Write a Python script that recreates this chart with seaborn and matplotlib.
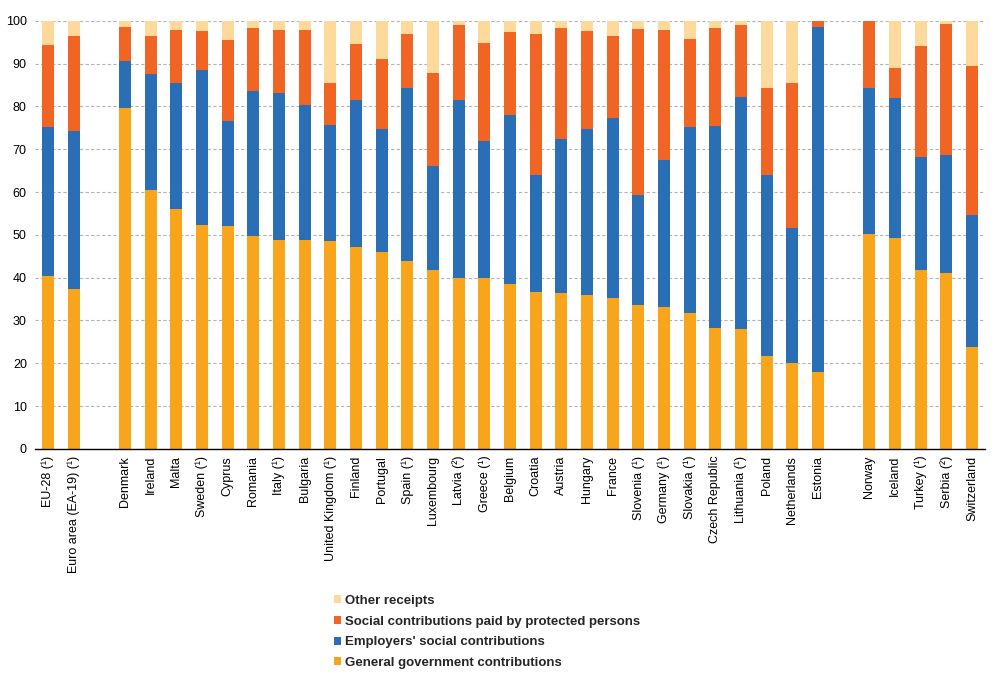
import numpy as np
import pandas as pd
import matplotlib
matplotlib.use("Agg")
import matplotlib.pyplot as plt
import seaborn as sns
from matplotlib.patches import Patch

countries = ["EU-28 (¹)", "Euro area (EA-19) (¹)",
             "Denmark", "Ireland", "Malta", "Sweden (¹)", "Cyprus", "Romania", "Italy (¹)",
             "Bulgaria", "United Kingdom (¹)", "Finland", "Portugal", "Spain (¹)", "Luxembourg",
             "Latvia (²)", "Greece (¹)", "Belgium", "Croatia", "Austria", "Hungary", "France",
             "Slovenia (¹)", "Germany (¹)", "Slovakia (¹)", "Czech Republic", "Lithuania (¹)",
             "Poland", "Netherlands", "Estonia",
             "Norway", "Iceland", "Turkey (¹)", "Serbia (²)", "Switzerland"]

gov = [40.5, 37.3,
       79.7, 60.5, 56.1, 52.3, 52.0, 49.7, 48.9, 48.8, 48.5, 47.2, 46.0, 43.8, 41.7,
       39.9, 39.9, 38.5, 36.6, 36.4, 36.0, 35.2, 33.7, 33.2, 31.7, 28.3, 28.0, 21.8, 20.0, 18.0,
       50.3, 49.2, 41.9, 41.0, 23.9]
emp = [34.7, 37.0,
       11.0, 27.1, 29.4, 36.3, 24.6, 33.9, 34.3, 31.6, 27.2, 34.3, 28.8, 40.6, 24.3,
       41.6, 32.1, 39.5, 27.5, 36.1, 38.8, 42.2, 25.7, 34.3, 43.6, 47.2, 54.2, 42.3, 31.7, 80.6,
       34.0, 32.8, 26.3, 27.7, 30.8]
soc = [19.2, 22.2,
       7.9, 8.9, 12.4, 9.1, 19.0, 14.8, 14.7, 17.5, 9.8, 13.2, 16.4, 12.6, 21.9,
       17.6, 22.9, 19.4, 32.9, 25.9, 22.9, 19.1, 38.7, 30.4, 20.5, 22.9, 16.9, 20.2, 33.8, 1.3,
       15.7, 6.9, 26.0, 30.6, 34.8]
other = [5.6, 3.5,
         1.4, 3.5, 2.1, 2.3, 4.4, 1.6, 2.1, 2.1, 14.5, 5.3, 8.8, 3.0, 12.1,
         0.9, 5.1, 2.6, 3.0, 1.6, 2.3, 3.5, 1.9, 2.1, 4.2, 1.6, 0.9, 15.7, 14.5, 0.1,
         0.0, 11.1, 5.8, 0.7, 10.5]

series_names = ["Other receipts", "Social contributions paid by protected persons",
                "Employers' social contributions", "General government contributions"]
colors = ["#FDD99B", "#F06424", "#2A6EB6", "#F9A51C"]

sns.set_style("white")
plt.rcParams['font.family'] = ['Liberation Sans', 'DejaVu Sans']

order = countries[:2] + [" "] + countries[2:30] + ["  "] + countries[30:]

df = pd.DataFrame({"country": countries, "gov": gov, "emp": emp, "soc": soc, "other": other})
df["c1"] = df["gov"]
df["c2"] = df["c1"] + df["emp"]
df["c3"] = df["c2"] + df["soc"]
df["c4"] = df["c3"] + df["other"]

fig, ax = plt.subplots(figsize=(10.05, 6.74), dpi=100)
fig.subplots_adjust(left=0.035, right=0.98, top=0.969, bottom=0.334)

for col, c in zip(["c4", "c3", "c2", "c1"], colors):
    sns.barplot(data=df, x="country", y=col, order=order, color=c, saturation=1,
                width=0.47, ax=ax, errorbar=None, linewidth=0, edgecolor="none")

ax.set_ylim(0, 100)
ax.set_xlim(-0.5, len(order) - 0.5)
ax.set_yticks(np.arange(0, 101, 10))
ax.yaxis.grid(True, linestyle=(0, (3, 2)), color="#B4B4B4", linewidth=0.8)
ax.xaxis.grid(False)
ax.set_axisbelow(True)
for s in ["left", "top", "right"]:
    ax.spines[s].set_visible(False)
ax.spines["bottom"].set_color("#000000")
ax.spines["bottom"].set_linewidth(1.0)

ax.set_xticks(np.arange(len(order)))
ax.set_xticklabels(order, rotation=90, fontsize=9, color="#000000")
ax.set_xticks(np.arange(-0.5, len(order), 1.0), minor=True)
ax.tick_params(axis="x", which="major", length=0, pad=5)
ax.tick_params(axis="x", which="minor", length=5, color="#000000", width=0.8)
ax.tick_params(axis="y", length=0, labelsize=9, pad=6, labelcolor="#000000")
ax.set_xlabel("")
ax.set_ylabel("")

handles = [Patch(facecolor=c, edgecolor="none", label=n) for n, c in zip(series_names, colors)]
fig.legend(handles=handles, loc="upper left", bbox_to_anchor=(322 / 1005, 1 - 583 / 674),
           frameon=False, prop={"weight": "bold", "size": 9.5},
           handlelength=0.55, handleheight=0.55, handletextpad=0.3, labelspacing=0.66)

fig.savefig("out.png", dpi=100)
